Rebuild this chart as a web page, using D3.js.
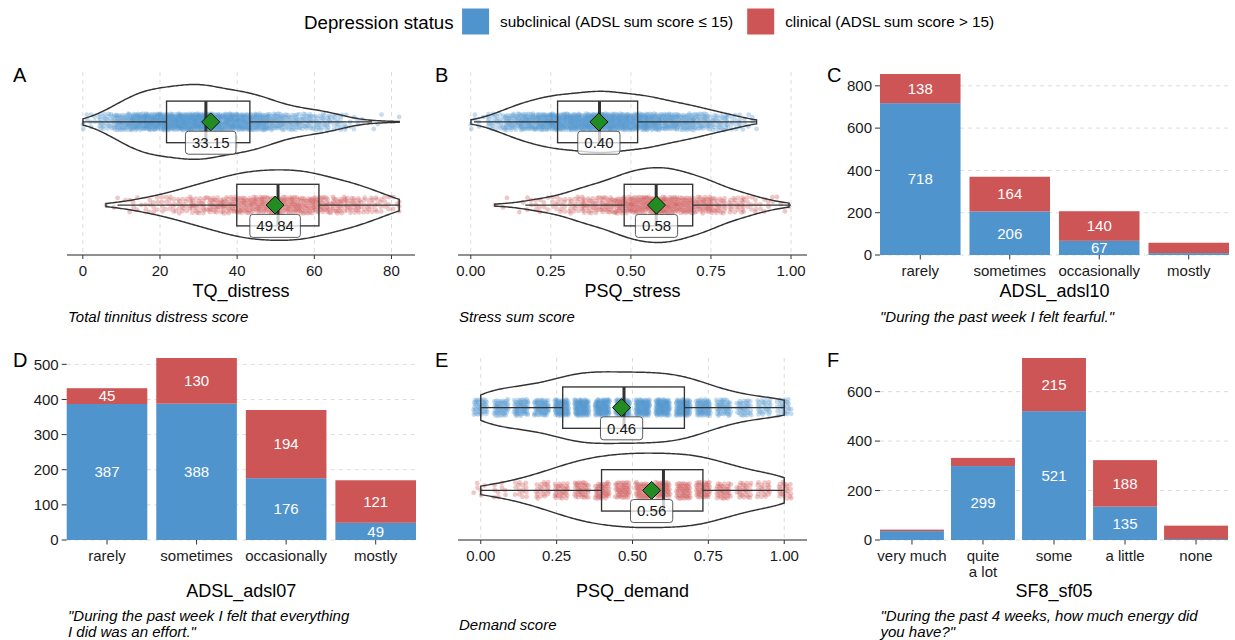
<!DOCTYPE html>
<html>
<head>
<meta charset="utf-8">
<script src="https://cdn.jsdelivr.net/npm/d3@7"></script>
<style>
  body { margin: 0; background: #fff; }
  text { font-family: "Liberation Sans", Arial, Helvetica, sans-serif; }
</style>
</head>
<body>
<div id="chart"></div>
<script>
"use strict";

// ---- data ----
const groups = ['subclinical', 'clinical'];
const groupLabels = ['subclinical (ADSL sum score \u2264 15)', 'clinical (ADSL sum score > 15)'];
const groupColors = ['#4f94cd', '#cd5555'];

// A: TQ_distress, respondents per 4-point bin
const tqBins = [2, 6, 10, 14, 18, 22, 26, 30, 34, 38, 42, 46, 50, 54, 58, 62, 66, 70, 74, 78, 82];
const tqCountsSub = [9, 28, 52, 71, 81, 86, 92, 94, 86, 79, 74, 66, 49, 38, 33, 28, 19, 8, 3, 2, 1];
const tqCountsClin = [0, 1, 3, 7, 11, 15, 19, 25, 31, 35, 40, 42, 43, 43, 40, 36, 32, 27, 20, 13, 6];
const tqQ1 = [21.7, 39.9];
const tqMedian = [31.9, 50.6];
const tqQ3 = [43.3, 61.2];
const tqLower = [0, 9];
const tqUpper = [75, 82];
const tqMean = [33.15, 49.84];
const tqTicks = [0, 20, 40, 60, 80];

// B: PSQ_stress, respondents per 0.05 bin
const stressBins = [0.025, 0.075, 0.125, 0.175, 0.225, 0.275, 0.325, 0.375, 0.425, 0.475,
                    0.525, 0.575, 0.625, 0.675, 0.725, 0.775, 0.825, 0.875, 0.925, 0.975];
const stressCountsSub = [7, 24, 45, 61, 72, 79, 86, 89, 90, 86, 79, 71, 62, 52, 41, 29, 18, 7, 0, 0];
const stressCountsClin = [0, 1, 2, 6, 10, 15, 21, 28, 36, 45, 52, 55, 54, 49, 39, 29, 21, 14, 8, 4];
const stressQ1 = [0.271, 0.479];
const stressMedian = [0.402, 0.579];
const stressQ3 = [0.521, 0.693];
const stressLower = [0.01, 0.17];
const stressUpper = [0.89, 1.0];
const stressMean = [0.40, 0.58];
const unitTicks = [0, 0.25, 0.5, 0.75, 1];

// E: PSQ_demand, respondents per answer level
const demandBins = [0, 0.067, 0.133, 0.2, 0.267, 0.333, 0.4, 0.467, 0.533, 0.6, 0.667, 0.733, 0.8, 0.867, 0.933, 1];
const demandCountsSub = [42, 50, 57, 64, 80, 93, 95, 92, 92, 92, 84, 66, 47, 35, 26, 26];
const demandCountsClin = [6, 9, 15, 23, 32, 40, 45, 47, 48, 48, 47, 44, 36, 28, 21, 23];
const demandQ1 = [0.27, 0.398];
const demandMedian = [0.472, 0.602];
const demandQ3 = [0.671, 0.732];
const demandLower = [0, 0];
const demandUpper = [1, 1];
const demandMean = [0.464, 0.563];

// C: ADSL_adsl10
const adsl10Levels = ['rarely', 'sometimes', 'occasionally', 'mostly'];
const adsl10Sub = [718, 206, 67, 9];
const adsl10Clin = [138, 164, 140, 49];
const adsl10Ticks = [0, 200, 400, 600, 800];

// D: ADSL_adsl07
const adsl07Levels = ['rarely', 'sometimes', 'occasionally', 'mostly'];
const adsl07Sub = [387, 388, 176, 49];
const adsl07Clin = [45, 130, 194, 121];
const adsl07Ticks = [0, 100, 200, 300, 400, 500];

// F: SF8_sf05
const sf05Levels = ['very much', 'quite\na lot', 'some', 'a little', 'none'];
const sf05Sub = [36, 299, 521, 135, 4];
const sf05Clin = [6, 33, 215, 188, 54];
const sf05Ticks = [0, 200, 400, 600];

// ---- drawing ----
const W = 1235, H = 640;
const svg = d3.select('#chart').append('svg').attr('width', W).attr('height', H);

function frac(v) { return v - Math.floor(v); }

// spread respondents of each bin over the bin (low discrepancy, no randomness)
function buildPoints(bins, counts, spread, clamp) {
    const pts = [];
    let k = 0;
    bins.forEach((c, i) => {
        for (let j = 0; j < counts[i]; j++, k++) {
            const u = frac(0.5 + k * 0.7548776662);
            const v = frac(0.5 + k * 0.5698402910);
            const raw = Math.max(clamp[0], Math.min(clamp[1], c + (u - 0.5) * spread));
            pts.push({ raw, u, v });
        }
    });
    return pts;
}

// R's bw.nrd0
function bwNrd0(vals) {
    const s = vals.slice().sort(d3.ascending);
    const iqr = d3.quantileSorted(s, 0.75) - d3.quantileSorted(s, 0.25);
    return 0.9 * Math.min(d3.deviation(s), iqr / 1.34) * Math.pow(s.length, -0.2);
}

// gaussian density, trimmed to the data range
function kde(vals, bw) {
    const [lo, hi] = d3.extent(vals);
    const n = 200;
    return d3.range(n).map(i => {
        const x = lo + (hi - lo) * i / (n - 1);
        let s = 0;
        for (const v of vals) { const z = (x - v) / bw; s += Math.exp(-0.5 * z * z); }
        return [x, s / (vals.length * bw * Math.sqrt(2 * Math.PI))];
    });
}

function addText(parent, x, y, str, size, opts = {}) {
    return parent.append('text').attr('x', x).attr('y', y).text(str)
        .attr('font-size', size + 'px')
        .attr('fill', opts.fill || '#1a1a1a')
        .attr('text-anchor', opts.anchor || 'start')
        .attr('font-style', opts.italic ? 'italic' : null);
}

function decorations(cfg, mid) {
    addText(svg, cfg.tagX, cfg.tagY, cfg.tag, 20, { fill: '#000' });
    addText(svg, mid, cfg.titleY, cfg.title, 18, { anchor: 'middle', fill: '#000' });
    cfg.caption.forEach((line, i) => {
        addText(svg, cfg.capX, cfg.capY + i * 16.6, line, 15, { italic: true, fill: '#000' });
    });
}

function drawViolinPanel(cfg) {
    const g = svg.append('g');
    const x = d3.scaleLinear().domain(cfg.domain).range([cfg.x0, cfg.x1]);
    const y = d3.scalePoint().domain(groups).range([cfg.top, cfg.bottom]).padding(0.6);
    const step = y.step();

    g.selectAll('.vgrid').data(cfg.ticks).join('line')
        .attr('x1', d => x(d)).attr('x2', d => x(d))
        .attr('y1', cfg.top).attr('y2', cfg.bottom)
        .attr('stroke', '#dcdcdc').attr('stroke-dasharray', '4,4');

    const sets = groups.map((grp, gi) => {
        const pts = buildPoints(cfg.bins, cfg.counts[gi], cfg.spread, cfg.clamp);
        const raws = pts.map(p => p.raw);
        return { grp, gi, pts, dens: kde(raws, bwNrd0(raws)) };
    });
    // equal-area violins: widest density in the panel gets the full width
    const maxD = d3.max(sets, s => d3.max(s.dens, d => d[1]));
    const w = d3.scaleLinear().domain([0, maxD]).range([0, 0.45 * step]);
    const hb = 0.25 * step;

    sets.forEach(s => {
        const cy = y(s.grp), i = s.gi;
        g.append('g').selectAll('circle').data(s.pts).join('circle')
            .attr('cx', p => x(p.raw + (p.u - 0.5) * 2 * cfg.jitterW))
            .attr('cy', p => cy + (p.v - 0.5) * 2 * 0.1 * step)
            .attr('r', 2.4)
            .attr('fill', groupColors[i]).attr('fill-opacity', 0.33);

        const area = d3.area().x(d => x(d[0])).y0(d => cy - w(d[1])).y1(d => cy + w(d[1]));
        g.append('path').datum(s.dens).attr('d', area)
            .attr('fill', 'none').attr('stroke', '#333').attr('stroke-width', 1.45);

        g.append('line').attr('x1', x(cfg.lower[i])).attr('x2', x(cfg.q1[i]))
            .attr('y1', cy).attr('y2', cy).attr('stroke', '#333').attr('stroke-width', 1.2);
        g.append('line').attr('x1', x(cfg.q3[i])).attr('x2', x(cfg.upper[i]))
            .attr('y1', cy).attr('y2', cy).attr('stroke', '#333').attr('stroke-width', 1.2);
        g.append('rect').attr('x', x(cfg.q1[i])).attr('y', cy - hb)
            .attr('width', x(cfg.q3[i]) - x(cfg.q1[i])).attr('height', 2 * hb)
            .attr('fill', 'none').attr('stroke', '#333').attr('stroke-width', 1.35);
        g.append('line').attr('x1', x(cfg.median[i])).attr('x2', x(cfg.median[i]))
            .attr('y1', cy - hb).attr('y2', cy + hb)
            .attr('stroke', '#333').attr('stroke-width', 3);

        const mx = x(cfg.mean[i]);
        g.append('path')
            .attr('d', `M${mx},${cy - 9}L${mx + 9},${cy}L${mx},${cy + 9}L${mx - 9},${cy}Z`)
            .attr('fill', '#228b22').attr('stroke', '#111').attr('stroke-width', 1);

        const lab = g.append('g').attr('transform', `translate(${mx},${cy + hb})`);
        const rect = lab.append('rect');
        const t = addText(lab, 0, 5.3, cfg.mean[i].toFixed(2), 15, { anchor: 'middle' });
        const tw = t.node().getComputedTextLength();
        rect.attr('x', -tw / 2 - 6.5).attr('y', -11.5).attr('width', tw + 13).attr('height', 23)
            .attr('rx', 3).attr('fill', '#fff').attr('fill-opacity', 0.75)
            .attr('stroke', '#333').attr('stroke-width', 0.8);
    });

    // x axis
    g.append('line').attr('x1', cfg.x0).attr('x2', cfg.x1)
        .attr('y1', cfg.bottom).attr('y2', cfg.bottom).attr('stroke', '#222').attr('stroke-width', 1.2);
    cfg.ticks.forEach(d => {
        g.append('line').attr('x1', x(d)).attr('x2', x(d))
            .attr('y1', cfg.bottom).attr('y2', cfg.bottom + 4).attr('stroke', '#333');
        addText(g, x(d), cfg.bottom + 21, cfg.fmt(d), 15, { anchor: 'middle' });
    });
    decorations(cfg, (cfg.x0 + cfg.x1) / 2);
}

function drawBarPanel(cfg) {
    const g = svg.append('g');
    const rows = cfg.levels.map((lv, i) => ({ level: lv, sub: cfg.sub[i], clin: cfg.clin[i] }));
    const n = rows.length;
    const stepPx = (cfg.pr - cfg.pl) / (n - 0.1);
    const x = d3.scaleBand().domain(cfg.levels)
        .range([cfg.pl - 0.05 * stepPx, cfg.pr + 0.05 * stepPx])
        .paddingInner(0.1).paddingOuter(0.05);
    const y = d3.scaleLinear().domain([0, d3.max(rows, r => r.sub + r.clin) * 1.011])
        .range([cfg.bottom, cfg.top]);

    g.selectAll('.hgrid').data(cfg.ticks).join('line')
        .attr('x1', cfg.pl).attr('x2', cfg.pr)
        .attr('y1', d => y(d)).attr('y2', d => y(d))
        .attr('stroke', '#dcdcdc').attr('stroke-dasharray', '4,4');

    const series = d3.stack().keys(['sub', 'clin'])(rows);
    series.forEach((ser, si) => {
        g.append('g').selectAll('rect').data(ser).join('rect')
            .attr('x', d => x(d.data.level)).attr('width', x.bandwidth())
            .attr('y', d => y(d[1])).attr('height', d => y(d[0]) - y(d[1]))
            .attr('fill', groupColors[si]);
        ser.forEach(d => {
            // only segments tall enough carry their count
            if (y(d[0]) - y(d[1]) > 13.8) {
                addText(g, x(d.data.level) + x.bandwidth() / 2, (y(d[0]) + y(d[1])) / 2 + 5.3,
                    d[1] - d[0], 15, { anchor: 'middle', fill: '#fff' });
            }
        });
    });

    cfg.ticks.forEach(d => {
        g.append('line').attr('x1', cfg.pl - 5).attr('x2', cfg.pl)
            .attr('y1', y(d)).attr('y2', y(d)).attr('stroke', '#333');
        addText(g, cfg.pl - 8, y(d) + 5.3, d, 15, { anchor: 'end' });
    });
    cfg.levels.forEach(lv => {
        const cx = x(lv) + x.bandwidth() / 2;
        g.append('line').attr('x1', cx).attr('x2', cx)
            .attr('y1', cfg.bottom).attr('y2', cfg.bottom + 4.5).attr('stroke', '#333');
        lv.split('\n').forEach((part, k) => {
            addText(g, cx, cfg.bottom + 21 + k * 15.7, part, 15, { anchor: 'middle' });
        });
    });
    decorations(cfg, (cfg.pl + cfg.pr) / 2);
}

const fmt0 = d3.format('d');
const fmt2 = d3.format('.2f');

drawViolinPanel({
    tag: 'A', tagX: 13, tagY: 82, title: 'TQ_distress', titleY: 296.5,
    caption: ['Total tinnitus distress score'], capX: 68, capY: 322,
    x0: 67, x1: 415, top: 72, bottom: 255, domain: [-4.1, 86.1],
    ticks: tqTicks, fmt: fmt0,
    bins: tqBins, counts: [tqCountsSub, tqCountsClin], spread: 4, clamp: [0, 82], jitterW: 0,
    q1: tqQ1, median: tqMedian, q3: tqQ3, lower: tqLower, upper: tqUpper, mean: tqMean
});

drawViolinPanel({
    tag: 'B', tagX: 435, tagY: 82, title: 'PSQ_stress', titleY: 296.5,
    caption: ['Stress sum score'], capX: 459, capY: 322,
    x0: 458, x1: 807, top: 72, bottom: 255, domain: [-0.04, 1.05],
    ticks: unitTicks, fmt: fmt2,
    bins: stressBins, counts: [stressCountsSub, stressCountsClin], spread: 0.05, clamp: [0, 1], jitterW: 0,
    q1: stressQ1, median: stressMedian, q3: stressQ3, lower: stressLower, upper: stressUpper, mean: stressMean
});

drawViolinPanel({
    tag: 'E', tagX: 435, tagY: 367, title: 'PSQ_demand', titleY: 596.5,
    caption: ['Demand score'], capX: 459, capY: 630,
    x0: 458, x1: 807, top: 358, bottom: 540, domain: [-0.075, 1.075],
    ticks: unitTicks, fmt: fmt2,
    bins: demandBins, counts: [demandCountsSub, demandCountsClin], spread: 0, clamp: [0, 1], jitterW: 0.024,
    q1: demandQ1, median: demandMedian, q3: demandQ3, lower: demandLower, upper: demandUpper, mean: demandMean
});

drawBarPanel({
    tag: 'C', tagX: 827, tagY: 82, title: 'ADSL_adsl10', titleY: 296.5,
    caption: ['"During the past week I felt fearful."'], capX: 880, capY: 322,
    pl: 880, pr: 1229, top: 72, bottom: 255,
    levels: adsl10Levels, sub: adsl10Sub, clin: adsl10Clin, ticks: adsl10Ticks
});

drawBarPanel({
    tag: 'D', tagX: 13, tagY: 367, title: 'ADSL_adsl07', titleY: 596.5,
    caption: ['"During the past week I felt that everything', 'I did was an effort."'], capX: 68, capY: 620.5,
    pl: 66.7, pr: 416, top: 356, bottom: 540,
    levels: adsl07Levels, sub: adsl07Sub, clin: adsl07Clin, ticks: adsl07Ticks
});

drawBarPanel({
    tag: 'F', tagX: 827, tagY: 367, title: 'SF8_sf05', titleY: 596.5,
    caption: ['"During the past 4 weeks, how much energy did', 'you have?"'], capX: 880.5, capY: 620.5,
    pl: 880, pr: 1228, top: 356, bottom: 540,
    levels: sf05Levels, sub: sf05Sub, clin: sf05Clin, ticks: sf05Ticks
});

// ---- legend ----
const leg = svg.append('g');
const legTitle = addText(leg, 304, 29.3, 'Depression status', 18.7, { fill: '#000' });
let lx = 304 + legTitle.node().getComputedTextLength() + 8.5;
groups.forEach((grp, i) => {
    leg.append('rect').attr('x', lx).attr('y', 8.5).attr('width', 27).attr('height', 26)
        .attr('fill', groupColors[i]);
    const t = addText(leg, lx + 27 + 11, 27.3, groupLabels[i], 15.3, { fill: '#000' });
    lx += 27 + 11 + t.node().getComputedTextLength() + 14;
});
</script>
</body>
</html>
